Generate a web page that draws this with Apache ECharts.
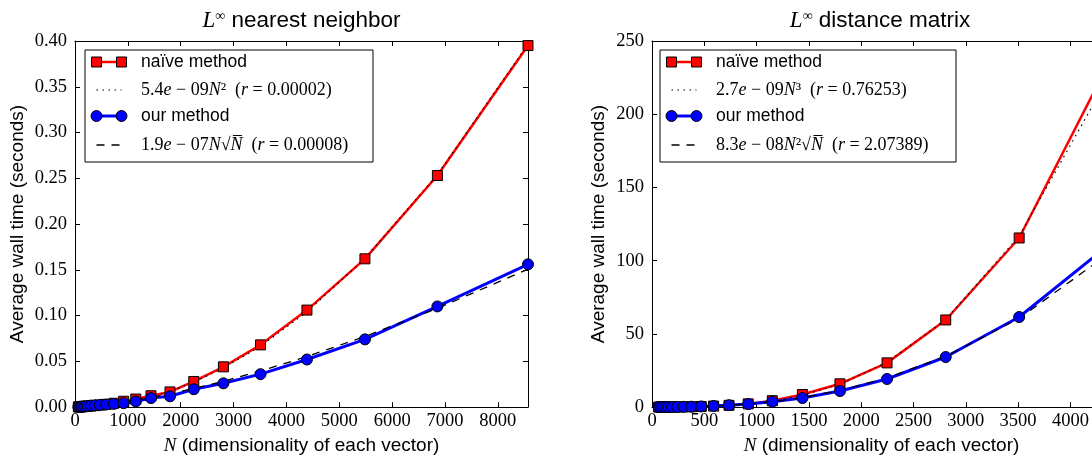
<!DOCTYPE html>
<html>
<head>
<meta charset="utf-8">
<script src="https://cdn.jsdelivr.net/npm/echarts@6/dist/echarts.min.js"></script>
<style>
  html, body { margin: 0; padding: 0; background: #fff; overflow: hidden; width: 1092px; height: 460px; }
  /* the right panel runs past the page edge, so the drawing surface is wider than the page */
  #chart { width: 1130px; height: 460px; }
</style>
</head>
<body>
<div id="chart"></div>
<script>
// ---- Timing data -------------------------------------------------------
// Vector dimensionality N for the nearest-neighbour benchmark
const nnSizes = [63, 79, 99, 124, 154, 193, 241, 302, 377, 471, 589, 736, 920,
                 1150, 1438, 1797, 2247, 2808, 3510, 4388, 5485, 6856, 8570];
// Average wall time (s), naive method
const nnNaive = [0.0002, 0.0002, 0.0003, 0.0004, 0.0005, 0.0007, 0.0009, 0.0012, 0.0016,
                 0.0022, 0.0030, 0.0042, 0.0064, 0.0088, 0.0124, 0.0166, 0.028, 0.044,
                 0.068, 0.106, 0.162, 0.253, 0.395];
// Fitted 5.4e-09 N^2
const nnNaiveFit = [0.00002, 0.00003, 0.00005, 0.00008, 0.00013, 0.00020, 0.00031, 0.00049,
                    0.00077, 0.00120, 0.00187, 0.00293, 0.00457, 0.00714, 0.0112, 0.0174,
                    0.0273, 0.0426, 0.0665, 0.1040, 0.1625, 0.2538, 0.3966];
// Average wall time (s), our method
const nnOurs = [0.0002, 0.0003, 0.0004, 0.0005, 0.0007, 0.0009, 0.0012, 0.0017, 0.0020,
                0.0024, 0.0028, 0.0035, 0.0043, 0.0062, 0.0099, 0.0118, 0.0195, 0.026,
                0.036, 0.052, 0.074, 0.110, 0.156];
// Fitted 1.9e-07 N sqrt(N)
const nnOursFit = [0.0001, 0.00013, 0.00019, 0.00026, 0.00036, 0.0005, 0.0007, 0.0010,
                   0.0014, 0.0019, 0.0027, 0.0038, 0.0053, 0.0074, 0.0104, 0.0145, 0.0202,
                   0.0283, 0.0395, 0.0552, 0.0772, 0.1079, 0.1507];

// Vector dimensionality N for the distance-matrix benchmark
const dmSizes = [63, 79, 99, 124, 154, 193, 241, 302, 377, 471, 589, 736, 920,
                 1150, 1438, 1797, 2247, 2808, 3510, 4388];
const dmNaive = [0.02, 0.02, 0.03, 0.04, 0.05, 0.07, 0.1, 0.15, 0.25, 0.4, 0.7, 1.2,
                 2.2, 4.4, 8.6, 15.9, 30.2, 59.5, 115.5, 238];
// Fitted 2.7e-09 N^3
const dmNaiveFit = [0.0007, 0.0013, 0.0026, 0.005, 0.010, 0.019, 0.038, 0.074, 0.145,
                    0.28, 0.55, 1.08, 2.10, 4.11, 8.03, 15.67, 30.6, 59.8, 116.8, 228.1];
const dmOurs = [0.02, 0.02, 0.03, 0.04, 0.05, 0.07, 0.1, 0.17, 0.28, 0.45, 0.8, 1.3,
                2.1, 3.7, 6.2, 11.0, 19.2, 34.2, 61.5, 112];
// Fitted 8.3e-08 N^2 sqrt(N)
const dmOursFit = [0.003, 0.005, 0.008, 0.014, 0.024, 0.043, 0.075, 0.13, 0.23, 0.40,
                   0.70, 1.22, 2.13, 3.72, 6.51, 11.36, 19.9, 34.7, 60.6, 105.9];

// Axis ranges and tick steps
const nnXRange = [0, 8570], nnXStep = 1000;
const nnYRange = [0, 0.40], nnYStep = 0.05;
const dmXRange = [0, 4388], dmXStep = 500;
const dmYRange = [0, 250], dmYStep = 50;

// Text
const panelTitles = ['nearest neighbor', 'distance matrix'];
const xTitle = 'N';
const xTitleRest = ' (dimensionality of each vector)';
const yTitle = 'Average wall time (seconds)';
const methodNames = ['naïve method', 'our method'];

// ---- Styling -------------------------------------------------------------
const SERIF = "'Liberation Serif', 'DejaVu Serif', serif";
const SANS = "'Liberation Sans', Arial, 'DejaVu Sans', sans-serif";
const RED = '#ff0000', BLUE = '#0000ff', BLACK = '#000000';

const pairs = (xs, ys) => xs.map((x, i) => [x, ys[i]]);

const axisLine = { show: true, onZero: false, lineStyle: { color: BLACK, width: 1 } };
const axisTick = { show: true, inside: true, length: 5, lineStyle: { color: BLACK, width: 1 } };
const tickFont = { fontFamily: SERIF, fontSize: 18.5, color: BLACK };

function xAxes(grid, range, step) {
  return [
    {
      type: 'value', gridIndex: grid, position: 'bottom',
      min: range[0], max: range[1], interval: step,
      axisLine, axisTick, splitLine: { show: false },
      axisLabel: Object.assign({ margin: 5, showMaxLabel: false, formatter: v => String(v) }, tickFont),
      name: '{i|' + xTitle + '}' + xTitleRest,
      nameLocation: 'middle', nameGap: 24,
      nameTextStyle: {
        fontFamily: SANS, fontSize: 19, color: BLACK,
        rich: { i: { fontFamily: SERIF, fontStyle: 'italic', fontSize: 19, color: BLACK } }
      }
    },
    {
      type: 'value', gridIndex: grid, position: 'top',
      min: range[0], max: range[1], interval: step,
      axisLine, axisTick, splitLine: { show: false }, axisLabel: { show: false }
    }
  ];
}

function yAxes(grid, range, step, fmt, gap) {
  return [
    {
      type: 'value', gridIndex: grid, position: 'left',
      min: range[0], max: range[1], interval: step,
      axisLine, axisTick, splitLine: { show: false },
      axisLabel: Object.assign({ margin: 8, formatter: fmt }, tickFont),
      name: yTitle, nameLocation: 'middle', nameGap: gap,
      nameTextStyle: { fontFamily: SANS, fontSize: 19, color: BLACK }
    },
    {
      type: 'value', gridIndex: grid, position: 'right',
      min: range[0], max: range[1], interval: step,
      axisLine, axisTick, splitLine: { show: false }, axisLabel: { show: false }
    }
  ];
}

function measured(xi, yi, data, shape, color, size, width) {
  return {
    type: 'line', xAxisIndex: xi, yAxisIndex: yi, data,
    symbol: shape, symbolSize: size, showSymbol: true, showAllSymbol: true,
    lineStyle: { color, width },
    itemStyle: { color, borderColor: BLACK, borderWidth: 1 },
    emphasis: { disabled: true }, z: 2
  };
}
function fitted(xi, yi, data, dash, width) {
  return {
    type: 'line', xAxisIndex: xi, yAxisIndex: yi, data, symbol: 'none',
    lineStyle: { color: BLACK, width, type: dash },
    emphasis: { disabled: true }, z: 2
  };
}

const DOTS = [1.5, 4.5];
const DASHES = [8, 7];

// ---- Legend boxes and titles drawn as graphic elements --------------------
const mathRich = {
  m: { fontFamily: SERIF, fontSize: 18, fill: BLACK },
  i: { fontFamily: SERIF, fontStyle: 'italic', fontSize: 18, fill: BLACK }
};

function legendBox(x0, y0, w, h, fitTexts) {
  const rows = [y0 + 12, y0 + 40, y0 + 66, y0 + 95];
  const a = x0 + 11.5, b = x0 + 36.5, tx = x0 + 56;
  const els = [
    { type: 'rect', shape: { x: x0, y: y0, width: w, height: h },
      style: { fill: '#fff', stroke: BLACK, lineWidth: 1 }, z: 50 },
    // naive method sample
    { type: 'line', shape: { x1: a, y1: rows[0], x2: b, y2: rows[0] },
      style: { stroke: RED, lineWidth: 2.5 }, z: 51 },
    { type: 'rect', shape: { x: a - 5, y: rows[0] - 5, width: 10, height: 10 },
      style: { fill: RED, stroke: BLACK, lineWidth: 1 }, z: 52 },
    { type: 'rect', shape: { x: b - 5, y: rows[0] - 5, width: 10, height: 10 },
      style: { fill: RED, stroke: BLACK, lineWidth: 1 }, z: 52 },
    { type: 'text', z: 52, style: { text: methodNames[0], x: tx, y: rows[0],
      font: '17.5px ' + SANS, fill: BLACK, verticalAlign: 'middle' } },
    // naive fit sample
    { type: 'line', shape: { x1: a, y1: rows[1], x2: b, y2: rows[1] },
      style: { stroke: BLACK, lineWidth: 1.2, lineDash: DOTS }, z: 51 },
    { type: 'text', z: 52, style: { text: fitTexts[0], rich: mathRich, x: tx, y: rows[1],
      font: '18px ' + SERIF, fill: BLACK, verticalAlign: 'middle' } },
    // our method sample
    { type: 'line', shape: { x1: a, y1: rows[2], x2: b, y2: rows[2] },
      style: { stroke: BLUE, lineWidth: 3 }, z: 51 },
    { type: 'circle', shape: { cx: a, cy: rows[2], r: 5.5 },
      style: { fill: BLUE, stroke: BLACK, lineWidth: 1 }, z: 52 },
    { type: 'circle', shape: { cx: b, cy: rows[2], r: 5.5 },
      style: { fill: BLUE, stroke: BLACK, lineWidth: 1 }, z: 52 },
    { type: 'text', z: 52, style: { text: methodNames[1], x: tx, y: rows[2],
      font: '17.5px ' + SANS, fill: BLACK, verticalAlign: 'middle' } },
    // our fit sample
    { type: 'line', shape: { x1: a, y1: rows[3], x2: b, y2: rows[3] },
      style: { stroke: BLACK, lineWidth: 1.3, lineDash: DASHES }, z: 51 },
    { type: 'text', z: 52, style: { text: fitTexts[1], rich: mathRich, x: tx, y: rows[3],
      font: '18px ' + SERIF, fill: BLACK, verticalAlign: 'middle' } }
  ];
  return els;
}

function panelTitle(cx, label) {
  return {
    type: 'text', z: 52,
    style: {
      text: '{L|L}{s|∞}{t| ' + label + '}', x: cx, y: 21,
      align: 'center', verticalAlign: 'middle',
      rich: {
        L: { fontFamily: SERIF, fontStyle: 'italic', fontSize: 23, fill: BLACK },
        s: { fontFamily: SERIF, fontSize: 14, fill: BLACK, verticalAlign: 'top' },
        t: { fontFamily: SANS, fontSize: 22.5, fill: BLACK }
      }
    }
  };
}

const nnFitTexts = [
  '{m|5.4}{i|e}{m| − 09}{i|N}{m|²  (}{i|r}{m| = 0.00002)}',
  '{m|1.9}{i|e}{m| − 07}{i|N}{m|√}{i|N\u0305}{m|  (}{i|r}{m| = 0.00008)}'
];
const dmFitTexts = [
  '{m|2.7}{i|e}{m| − 09}{i|N}{m|³  (}{i|r}{m| = 0.76253)}',
  '{m|8.3}{i|e}{m| − 08}{i|N}{m|²√}{i|N\u0305}{m|  (}{i|r}{m| = 2.07389)}'
];

// ---- Chart ---------------------------------------------------------------
const chart = echarts.init(document.getElementById('chart'), null, { renderer: 'canvas' });
const grids = [
  { left: 75, top: 41, width: 453, height: 376 },
  { left: 652, top: 41, width: 459, height: 376 }
];

chart.setOption({
  animation: false,
  backgroundColor: '#ffffff',
  grid: grids,
  xAxis: [].concat(xAxes(0, nnXRange, nnXStep), xAxes(1, dmXRange, dmXStep)),
  yAxis: [].concat(
    yAxes(0, nnYRange, nnYStep, v => v.toFixed(2), 48),
    yAxes(1, dmYRange, dmYStep, v => String(Math.round(v)), 44)
  ),
  series: [
    measured(0, 0, pairs(nnSizes, nnNaive), 'rect', RED, 10, 2.5),
    fitted(0, 0, pairs(nnSizes, nnNaiveFit), DOTS, 1.2),
    measured(0, 0, pairs(nnSizes, nnOurs), 'circle', BLUE, 11, 3),
    fitted(0, 0, pairs(nnSizes, nnOursFit), DASHES, 1.3),
    measured(2, 2, pairs(dmSizes, dmNaive), 'rect', RED, 10, 2.5),
    fitted(2, 2, pairs(dmSizes, dmNaiveFit), DOTS, 1.2),
    measured(2, 2, pairs(dmSizes, dmOurs), 'circle', BLUE, 11, 3),
    fitted(2, 2, pairs(dmSizes, dmOursFit), DASHES, 1.3)
  ],
  graphic: [].concat(
    [panelTitle(grids[0].left + grids[0].width / 2, panelTitles[0]),
     panelTitle(880, panelTitles[1])],
    legendBox(85, 50, 288, 112, nnFitTexts),
    legendBox(660, 50, 296, 112, dmFitTexts)
  )
});
</script>
</body>
</html>
